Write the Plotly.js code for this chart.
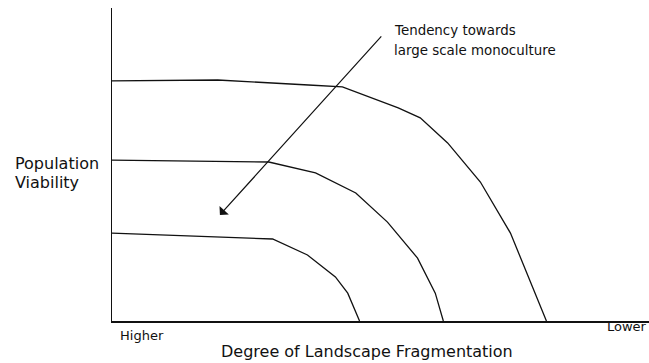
<!DOCTYPE html>
<html>
<head>
<meta charset="utf-8">
<script src="https://cdn.plot.ly/plotly-3.0.1.min.js"></script>
<style>
  html, body { margin: 0; padding: 0; background: #ffffff; }
  #chart { width: 649px; height: 363px; }
</style>
</head>
<body>
<div id="chart"></div>
<script>
// Schematic values on a 0-100 scale (x: degree of fragmentation, higher -> lower; y: population viability)
var fragX1 = [0, 19.7, 36.6, 42.9, 53.3, 57.4, 62.5, 68.6, 74.2, 77.3, 80.9];
var viab1  = [76.7, 77.0, 75.4, 74.8, 68.1, 64.9, 56.9, 44.4, 28.1, 15.3, 0];

var fragX2 = [0, 29.2, 37.9, 45.4, 51.3, 56.9, 60.2, 61.7];
var viab2  = [51.4, 50.8, 47.3, 40.9, 31.6, 20.1, 8.9, 0];

var fragX3 = [0, 29.9, 36.4, 41.6, 43.9, 46.1];
var viab3  = [28.1, 26.2, 21.1, 14.1, 8.9, 0];

var xEndLabels = ['Higher', 'Lower'];
var arrowLabel = ['Tendency towards', 'large scale monoculture'];
var yLabel = ['Population', 'Viability'];
var xTitle = 'Degree of Landscape Fragmentation';

var FONT = 'DejaVu Sans, Liberation Sans, Arial, sans-serif';
var lineStyle = {color: '#111111', width: 1.3, shape: 'linear'};

var traces = [
  {x: fragX1, y: viab1, mode: 'lines', line: lineStyle, hoverinfo: 'skip'},
  {x: fragX2, y: viab2, mode: 'lines', line: lineStyle, hoverinfo: 'skip'},
  {x: fragX3, y: viab3, mode: 'lines', line: lineStyle, hoverinfo: 'skip'}
];

var annotations = [
  // arrow
  {xref: 'x', yref: 'y', axref: 'x', ayref: 'y', x: 20.1, y: 33.9, ax: 50.4, ay: 91.4,
   text: '', showarrow: true, arrowhead: 1, arrowsize: 1.75, arrowwidth: 1.2, arrowcolor: '#111111'},
  {xref: 'paper', yref: 'paper', x: 0.522, y: 0.927, xanchor: 'left', yanchor: 'middle',
   text: arrowLabel[0], showarrow: false, font: {family: FONT, size: 13.4, color: '#111111'}},
  {xref: 'paper', yref: 'paper', x: 0.522, y: 0.863, xanchor: 'left', yanchor: 'middle',
   text: arrowLabel[1], showarrow: false, font: {family: FONT, size: 13.4, color: '#111111'}},
  {xref: 'paper', yref: 'paper', x: -0.184, y: 0.502, xanchor: 'left', yanchor: 'middle',
   text: yLabel[0], showarrow: false, font: {family: FONT, size: 16, color: '#111111'}},
  {xref: 'paper', yref: 'paper', x: -0.184, y: 0.444, xanchor: 'left', yanchor: 'middle',
   text: yLabel[1], showarrow: false, font: {family: FONT, size: 16, color: '#111111'}},
  {xref: 'paper', yref: 'paper', x: 0.011, y: -0.045, xanchor: 'left', yanchor: 'middle',
   text: xEndLabels[0], showarrow: false, font: {family: FONT, size: 13, color: '#111111'}},
  {xref: 'paper', yref: 'paper', x: 1.0, y: -0.019, xanchor: 'right', yanchor: 'middle',
   text: xEndLabels[1], showarrow: false, font: {family: FONT, size: 13, color: '#111111'}},
  {xref: 'paper', yref: 'paper', x: 0.475, y: -0.096, xanchor: 'center', yanchor: 'middle',
   text: xTitle, showarrow: false, font: {family: FONT, size: 16, color: '#111111'}}
];

var layout = {
  width: 649, height: 363,
  margin: {l: 112, r: 0, t: 8, b: 42, pad: 0},
  paper_bgcolor: '#ffffff', plot_bgcolor: '#ffffff',
  showlegend: false,
  xaxis: {range: [0, 100], showline: true, linecolor: '#111111', linewidth: 1.5,
          showgrid: false, zeroline: false, showticklabels: false, ticks: '', fixedrange: true},
  yaxis: {range: [0, 100], showline: true, linecolor: '#111111', linewidth: 1.5,
          showgrid: false, zeroline: false, showticklabels: false, ticks: '', fixedrange: true},
  annotations: annotations
};

Plotly.newPlot('chart', traces, layout, {displayModeBar: false, staticPlot: true});
</script>
</body>
</html>
